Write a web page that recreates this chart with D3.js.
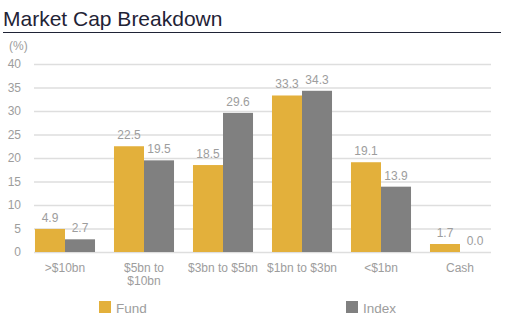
<!DOCTYPE html>
<html>
<head>
<meta charset="utf-8">
<script src="https://cdn.jsdelivr.net/npm/d3@7"></script>
<style>
	body { margin: 0; background: #fff; }
	svg { display: block; font-family: "Liberation Sans", Arial, sans-serif; }
</style>
</head>
<body>
<svg id="chart" width="512" height="332"></svg>
<script>
const categories = [">$10bn", "$5bn to\n$10bn", "$3bn to $5bn", "$1bn to $3bn", "<$1bn", "Cash"];
const fund = [4.9, 22.5, 18.5, 33.3, 19.1, 1.7];
const index = [2.7, 19.5, 29.6, 34.3, 13.9, 0.0];
const yTicks = [0, 5, 10, 15, 20, 25, 30, 35, 40];
const seriesNames = ["Fund", "Index"];

const colors = ["#e3b03b", "#808080"];
const labelGrey = "#9d9d9d";

let svg = d3.select("#chart"),
	MARGINS = { top: 64, bottom: 252, left: 34, right: 491 },
	xScale = d3.scaleBand()
		.domain(categories)
		.range([25.5, 499.5])
		.paddingInner(0.24)
		.paddingOuter(0.12),
	subScale = d3.scaleBand()
		.domain(seriesNames)
		.range([0, xScale.bandwidth()]),
	yScale = d3.scaleLinear()
		.domain([0, 40])
		.range([MARGINS.bottom, MARGINS.top]);

// title and rule under it
svg.append("text")
	.attr("x", 3)
	.attr("y", 26)
	.attr("font-size", 21)
	.attr("fill", "#1f2336")
	.text("Market Cap Breakdown");

svg.append("line")
	.attr("x1", 3).attr("x2", 501)
	.attr("y1", 32.5).attr("y2", 32.5)
	.attr("stroke", "#1f2336")
	.attr("stroke-width", 1.2);

svg.append("text")
	.attr("x", 9)
	.attr("y", 50)
	.attr("font-size", 12)
	.attr("fill", labelGrey)
	.text("(%)");

// gridlines + y labels
let yAxis = d3.axisLeft(yScale)
	.tickValues(yTicks)
	.tickSize(-(MARGINS.right - MARGINS.left))
	.tickPadding(13);

svg.append("g")
	.attr("transform", "translate(" + MARGINS.left + ",0)")
	.call(yAxis)
	.call(g => g.select(".domain").remove())
	.call(g => g.selectAll(".tick line").attr("stroke", "#dedede").attr("stroke-width", 1.3))
	.call(g => g.selectAll(".tick text")
		.attr("fill", labelGrey)
		.attr("font-size", 12)
		.attr("font-family", "Liberation Sans, Arial, sans-serif"));

// bars
let groups = svg.append("g").selectAll("g")
	.data(categories)
	.join("g")
	.attr("transform", d => "translate(" + xScale(d) + ",0)");

groups.each(function (cat, i) {
	let vals = [fund[i], index[i]];
	let g = d3.select(this);
	g.selectAll("rect")
		.data(vals)
		.join("rect")
		.attr("x", (d, k) => subScale(seriesNames[k]))
		.attr("y", d => yScale(d))
		.attr("width", subScale.bandwidth())
		.attr("height", d => yScale(0) - yScale(d))
		.attr("fill", (d, k) => colors[k]);
	g.selectAll("text.val")
		.data(vals)
		.join("text")
		.attr("class", "val")
		.attr("x", (d, k) => subScale(seriesNames[k]) + subScale.bandwidth() / 2)
		.attr("y", d => yScale(d) - 7)
		.attr("text-anchor", "middle")
		.attr("font-size", 12)
		.attr("fill", labelGrey)
		.text(d => d.toFixed(1));
});

// category labels
let xLabels = svg.append("g").selectAll("text")
	.data(categories)
	.join("text")
	.attr("x", d => xScale(d) + xScale.bandwidth() / 2)
	.attr("y", 272)
	.attr("text-anchor", "middle")
	.attr("font-size", 12)
	.attr("fill", labelGrey);

xLabels.selectAll("tspan")
	.data(d => d.split("\n"))
	.join("tspan")
	.attr("x", function () { return d3.select(this.parentNode).attr("x"); })
	.attr("dy", (d, i) => i ? 13 : 0)
	.text(d => d);

// legend
const legendX = [99, 346];
let legend = svg.append("g").selectAll("g")
	.data(seriesNames)
	.join("g")
	.attr("transform", (d, i) => "translate(" + legendX[i] + ",301)");

legend.append("rect")
	.attr("width", 12)
	.attr("height", 12)
	.attr("fill", (d, i) => colors[i]);

legend.append("text")
	.attr("x", 17)
	.attr("y", 12)
	.attr("font-size", 13.5)
	.attr("fill", labelGrey)
	.text(d => d);
</script>
</body>
</html>
